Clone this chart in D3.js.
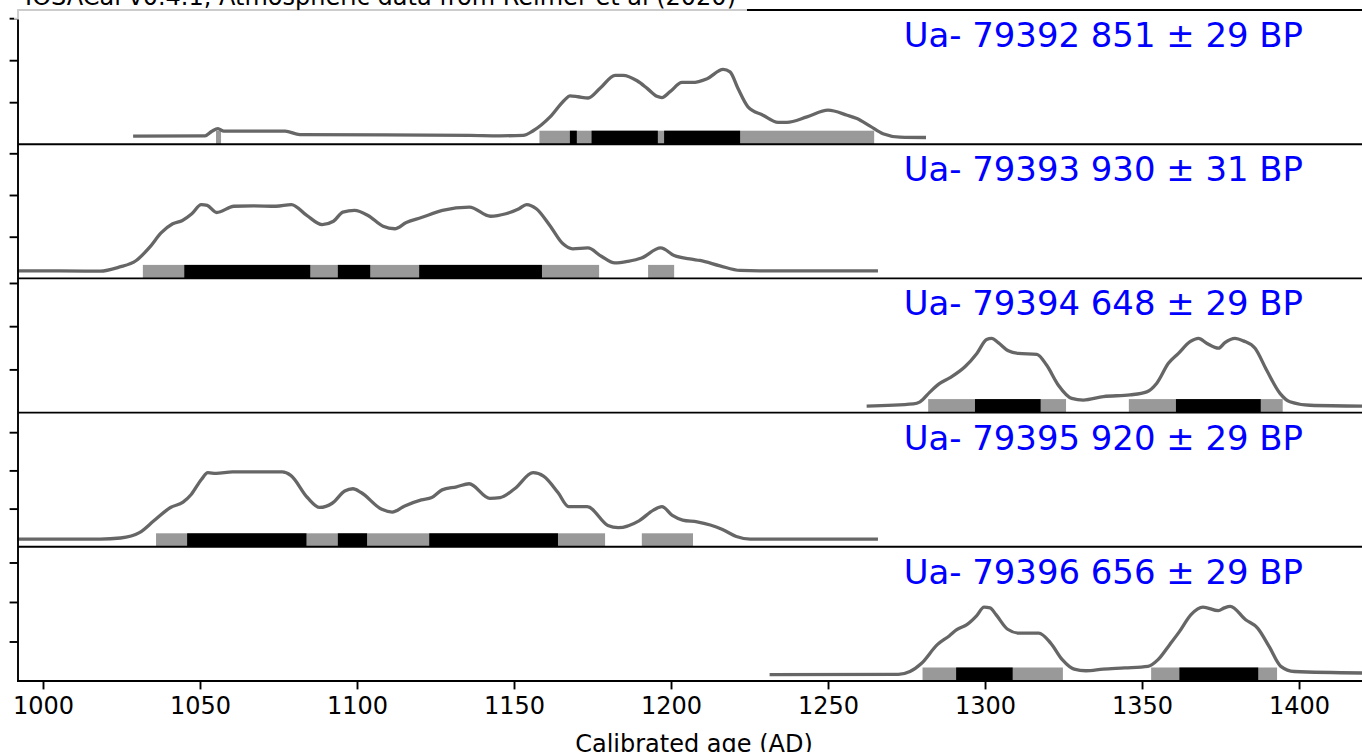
<!DOCTYPE html>
<html>
<head>
<meta charset="utf-8">
<script src="https://cdn.jsdelivr.net/npm/d3@7"></script>
<style>
  html, body { margin: 0; padding: 0; background: #fff; overflow: hidden; }
  text { font-family: "DejaVu Sans", sans-serif; }
</style>
</head>
<body>
<svg id="chart" width="1362" height="752"></svg>
<script>
// Radiocarbon dates, calibrated (IntCal20) probability curves and ranges
const sampleLabels = [
  "Ua- 79392 851 \u00b1 29 BP",
  "Ua- 79393 930 \u00b1 31 BP",
  "Ua- 79394 648 \u00b1 29 BP",
  "Ua- 79395 920 \u00b1 29 BP",
  "Ua- 79396 656 \u00b1 29 BP"
];

const titleText = "IOSACal v0.4.1, Atmospheric data from Reimer et al (2020)";
const xLabel = "Calibrated age (AD)";
const xTicks = [1000, 1050, 1100, 1150, 1200, 1250, 1300, 1350, 1400];
const yTicks = [1, 2, 3];
const yMax = [3.195, 3.218, 3.106, 3.513, 3.397];

// probability density (relative units) by calendar year AD
const years1 = [1028.7,1051.6,1053.8,1055.7,1057.6,1061.1,1077.1,1081.8,1136.0,1145.5,1152.9,1156.1,1161.5,1166.2,1167.8,1170.4,1173.6,1177.4,1182.2,1184.7,1189.2,1192.4,1195.5,1197.1,1199.7,1203.5,1206.7,1211.5,1216.6,1218.8,1221.3,1224.5,1229.3,1234.1,1236.9,1243.3,1250.0,1256.1,1259.2,1263.4,1267.5,1272.9,1281.2];
const dens1  = [0.19,0.20,0.31,0.37,0.31,0.31,0.31,0.23,0.21,0.20,0.21,0.32,0.65,1.06,1.15,1.13,1.10,1.33,1.64,1.64,1.51,1.33,1.14,1.11,1.25,1.47,1.47,1.56,1.78,1.72,1.33,0.89,0.69,0.52,0.52,0.65,0.81,0.69,0.61,0.43,0.25,0.17,0.16];

const years2 = [992.0,1005.4,1018.2,1024.2,1029.7,1034.0,1037.6,1041.3,1044.4,1047.4,1050.4,1052.3,1055.3,1060.8,1066.9,1074.2,1079.1,1084.0,1088.9,1092.5,1095.5,1099.2,1103.5,1108.3,1112.0,1115.7,1120.5,1127.2,1135.8,1142.5,1147.4,1151.6,1154.0,1157.1,1161.4,1165.6,1168.7,1173.5,1177.8,1182.1,1186.3,1190.6,1196.7,1201.0,1206.5,1209.2,1215.6,1222.0,1228.3,1265.9];
const dens2  = [0.18,0.18,0.175,0.27,0.43,0.75,1.09,1.31,1.39,1.55,1.77,1.75,1.58,1.73,1.74,1.73,1.77,1.51,1.29,1.37,1.59,1.63,1.51,1.25,1.19,1.34,1.46,1.63,1.71,1.49,1.55,1.67,1.77,1.67,1.27,0.83,0.71,0.73,0.53,0.37,0.41,0.49,0.73,0.55,0.46,0.43,0.30,0.19,0.18,0.18];

const years3 = [1262.3,1277.2,1279.3,1282.5,1285.7,1288.9,1293.6,1297.4,1300.5,1302.1,1304.2,1307.4,1310.6,1316.5,1319.6,1323.3,1327.6,1331.3,1337.7,1346.2,1351.5,1354.7,1358.4,1361.6,1365.3,1368.0,1370.7,1374.4,1376.4,1379.6,1382.3,1386.0,1389.7,1394.0,1397.1,1403.5,1422.5];
const dens3  = [0.15,0.20,0.25,0.48,0.68,0.81,1.06,1.37,1.69,1.72,1.62,1.43,1.37,1.35,1.10,0.64,0.33,0.29,0.37,0.41,0.48,0.68,1.14,1.37,1.64,1.72,1.60,1.49,1.62,1.72,1.66,1.49,0.98,0.44,0.25,0.17,0.15];

const years4 = [992.0,1018.2,1024.7,1030.7,1035.3,1040.6,1044.6,1047.2,1050.5,1052.5,1055.1,1060.4,1069.6,1076.2,1078.9,1084.2,1088.1,1092.1,1096.1,1098.7,1101.3,1107.9,1111.2,1115.2,1120.5,1123.8,1127.1,1131.7,1135.7,1142.3,1145.6,1150.2,1156.1,1159.4,1164.0,1167.4,1173.3,1179.9,1183.2,1189.8,1194.4,1197.1,1200.4,1203.7,1208.3,1216.2,1220.8,1225.2,1265.9];
const dens4  = [0.20,0.20,0.23,0.37,0.68,1.03,1.17,1.37,1.77,1.94,1.92,1.96,1.96,1.96,1.87,1.29,1.03,1.14,1.46,1.52,1.42,0.98,0.91,1.07,1.23,1.29,1.49,1.57,1.65,1.27,1.29,1.52,1.94,1.85,1.42,1.05,1.05,0.56,0.50,0.68,0.96,1.05,0.82,0.70,0.65,0.46,0.27,0.20,0.20];

const years5 = [1231.4,1272.4,1276.1,1279.8,1284.8,1288.6,1291.0,1294.1,1297.3,1299.7,1301.6,1303.5,1307.2,1310.9,1317.1,1320.9,1324.6,1328.4,1332.1,1337.6,1344.5,1351.9,1355.1,1358.8,1361.9,1365.6,1369.4,1374.3,1376.2,1378.1,1383.0,1386.8,1390.5,1394.2,1398.5,1422.5];
const dens5  = [0.16,0.17,0.24,0.45,0.92,1.14,1.30,1.42,1.65,1.87,1.85,1.68,1.31,1.21,1.21,0.96,0.54,0.30,0.26,0.30,0.33,0.37,0.54,0.92,1.25,1.68,1.87,1.78,1.85,1.89,1.55,1.34,0.87,0.37,0.24,0.20];

// 95.4 % (grey) and 68.2 % (black) highest-density ranges, AD
const ranges95 = [
  [[1055.1, 1056.7], [1158.1, 1264.7]],
  [[1031.8, 1177.1], [1192.7, 1201.0]],
  [[1281.9, 1325.8], [1345.8, 1394.8]],
  [[1036.0, 1179.0], [1190.7, 1207.0]],
  [[1280.1, 1324.8], [1352.9, 1393.0]]
];
const ranges68 = [
  [[1167.8, 1170.0], [1174.7, 1195.8], [1197.8, 1222.0]],
  [[1045.0, 1085.1], [1093.9, 1104.2], [1119.8, 1158.9]],
  [[1296.8, 1317.7], [1360.8, 1387.8]],
  [[1045.9, 1083.9], [1093.9, 1103.2], [1123.0, 1164.0]],
  [[1290.8, 1308.8], [1361.9, 1387.0]]
];

const curveYears = [years1, years2, years3, years4, years5];
const curveDens = [dens1, dens2, dens3, dens4, dens5];

// ---- layout ----
const plotLeft = 18, plotRight = 1370, plotTop = 10, plotBottom = 681;
const nPanels = sampleLabels.length;
const panelH = (plotBottom - plotTop) / nPanels;
const lineW = 1.9;
const barH = 13.5;

const svg = d3.select("#chart");

const x = d3.scaleLinear().domain([992.04, 1422.6]).range([plotLeft, plotRight]);

svg.append("defs").append("clipPath").attr("id", "plotclip")
  .append("rect").attr("x", plotLeft).attr("y", plotTop)
  .attr("width", plotRight - plotLeft).attr("height", plotBottom - plotTop);

const line = d3.line().curve(d3.curveMonotoneX);

for (let i = 0; i < nPanels; i++) {
  const top = plotTop + i * panelH;
  const bottom = top + panelH;
  const y = d3.scaleLinear().domain([0, yMax[i]]).range([bottom, top]);
  const g = svg.append("g").attr("clip-path", "url(#plotclip)");

  // confidence ranges
  g.selectAll(null).data(ranges95[i]).enter().append("rect")
    .attr("x", d => x(d[0])).attr("width", d => x(d[1]) - x(d[0]))
    .attr("y", y(0) - barH).attr("height", barH)
    .attr("fill", "#999999");
  g.selectAll(null).data(ranges68[i]).enter().append("rect")
    .attr("x", d => x(d[0])).attr("width", d => x(d[1]) - x(d[0]))
    .attr("y", y(0) - barH).attr("height", barH)
    .attr("fill", "#000000");

  // probability curve
  const pts = curveYears[i].map((yr, k) => [x(yr), y(curveDens[i][k])]);
  g.append("path").attr("d", line(pts))
    .attr("fill", "none").attr("stroke", "#666666")
    .attr("stroke-width", 3.3).attr("stroke-linejoin", "round");

  // y ticks (no labels)
  const yAxis = d3.axisLeft(y).tickValues(yTicks).tickSize(8.4).tickFormat("");
  const ya = svg.append("g").attr("transform", `translate(${plotLeft},0)`).call(yAxis);
  ya.select(".domain").remove();
  ya.selectAll(".tick line").attr("stroke", "#000").attr("stroke-width", lineW);

  // sample label
  svg.append("text")
    .attr("x", 1303).attr("y", top + 37)
    .attr("text-anchor", "end")
    .attr("font-size", 33.9)
    .attr("fill", "#0000ff")
    .text(sampleLabels[i]);

  // panel top border
  svg.append("line")
    .attr("x1", plotLeft).attr("x2", plotRight)
    .attr("y1", top).attr("y2", top)
    .attr("stroke", "#000").attr("stroke-width", lineW);
}

// bottom spine and left spine
svg.append("line").attr("x1", plotLeft - lineW / 2).attr("x2", plotRight)
  .attr("y1", plotBottom).attr("y2", plotBottom)
  .attr("stroke", "#000").attr("stroke-width", lineW);
svg.append("line").attr("x1", plotLeft).attr("x2", plotLeft)
  .attr("y1", plotTop - lineW / 2).attr("y2", plotBottom + lineW / 2)
  .attr("stroke", "#000").attr("stroke-width", lineW);

// x axis
const xAxis = d3.axisBottom(x).tickValues(xTicks).tickSize(8.4).tickPadding(8).tickFormat(d3.format("d"));
const xa = svg.append("g").attr("transform", `translate(0,${plotBottom})`).call(xAxis);
xa.select(".domain").remove();
xa.selectAll(".tick line").attr("stroke", "#000").attr("stroke-width", lineW);
xa.selectAll(".tick text").attr("font-size", 24).attr("fill", "#000")
  .attr("font-family", "DejaVu Sans, sans-serif");

svg.append("text")
  .attr("x", (plotLeft + plotRight) / 2).attr("y", 752)
  .attr("text-anchor", "middle").attr("font-size", 24).attr("fill", "#000")
  .text(xLabel);

// title with translucent box
const titleG = svg.append("g");
const titleBox = titleG.append("rect").attr("fill", "#fff").attr("fill-opacity", 0.8);
const title = titleG.append("text")
  .attr("x", 736).attr("y", 5)
  .attr("text-anchor", "end").attr("font-size", 24).attr("fill", "#000")
  .text(titleText);
const tb = title.node().getBBox();
titleBox.attr("x", tb.x - 11).attr("y", -30)
  .attr("width", tb.width + 22).attr("height", 49.5);
</script>
</body>
</html>
